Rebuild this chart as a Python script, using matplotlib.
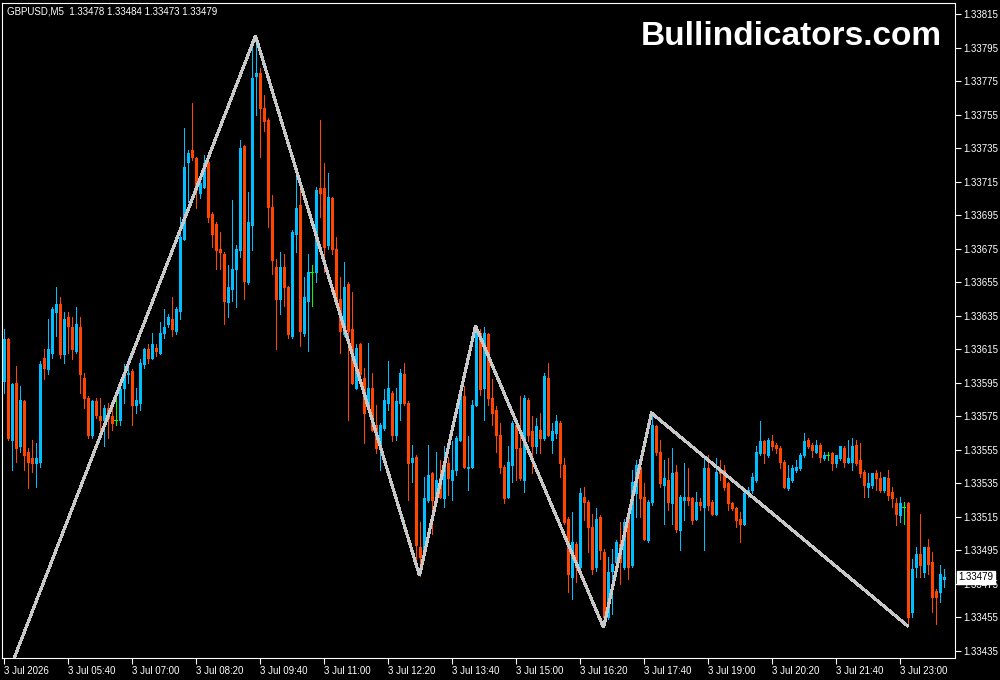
import matplotlib
matplotlib.use("Agg")
import matplotlib.pyplot as plt
from matplotlib.transforms import blended_transform_factory

# ---------------- data (GBPUSD, M5, 3 Jul 04:20 .. 23:55) ----------------
header = "GBPUSD,M5  1.33478 1.33484 1.33473 1.33479"
watermark = "Bullindicators.com"

opens = [
    1.33596, 1.33621, 1.33561, 1.33595, 1.33557, 1.33584, 1.33554, 1.33550, 1.33547, 1.33548,
    1.33610, 1.33603, 1.33613, 1.33637, 1.33642, 1.33612, 1.33634, 1.33628, 1.33614, 1.33628,
    1.33598, 1.33586, 1.33564, 1.33584, 1.33575, 1.33573, 1.33580, 1.33575, 1.33573, 1.33573,
    1.33592, 1.33600, 1.33602, 1.33582, 1.33583, 1.33606, 1.33615, 1.33610, 1.33616, 1.33613,
    1.33625, 1.33630, 1.33633, 1.33626, 1.33638, 1.33681, 1.33727, 1.33734, 1.33729, 1.33708,
    1.33712, 1.33727, 1.33696, 1.33690, 1.33675, 1.33672, 1.33643, 1.33651, 1.33663, 1.33674,
    1.33736, 1.33655, 1.33689, 1.33778, 1.33780, 1.33759, 1.33752, 1.33700, 1.33664, 1.33645,
    1.33664, 1.33652, 1.33623, 1.33684, 1.33701, 1.33625, 1.33644, 1.33661, 1.33661, 1.33711,
    1.33711, 1.33677, 1.33705, 1.33675, 1.33645, 1.33624, 1.33654, 1.33627, 1.33592, 1.33618,
    1.33598, 1.33581, 1.33592, 1.33570, 1.33556, 1.33568, 1.33583, 1.33589, 1.33564, 1.33583,
    1.33600, 1.33583, 1.33548, 1.33551, 1.33497, 1.33493, 1.33525, 1.33541, 1.33527, 1.33538,
    1.33526, 1.33547, 1.33537, 1.33543, 1.33561, 1.33587, 1.33544, 1.33545, 1.33582, 1.33625,
    1.33592, 1.33624, 1.33586, 1.33579, 1.33564, 1.33545, 1.33527, 1.33546, 1.33570, 1.33556,
    1.33537, 1.33585, 1.33566, 1.33557, 1.33567, 1.33562, 1.33598, 1.33561, 1.33565, 1.33571,
    1.33546, 1.33514, 1.33479, 1.33499, 1.33485, 1.33527, 1.33524, 1.33509, 1.33485, 1.33515,
    1.33494, 1.33455, 1.33483, 1.33488, 1.33499, 1.33485, 1.33515, 1.33486, 1.33529, 1.33545,
    1.33527, 1.33501, 1.33524, 1.33569, 1.33554, 1.33534, 1.33537, 1.33523, 1.33542, 1.33507,
    1.33525, 1.33527, 1.33526, 1.33514, 1.33524, 1.33521, 1.33544, 1.33524, 1.33517, 1.33543,
    1.33543, 1.33535, 1.33523, 1.33520, 1.33514, 1.33511, 1.33529, 1.33531, 1.33537, 1.33553,
    1.33560, 1.33552, 1.33560, 1.33558, 1.33556, 1.33548, 1.33532, 1.33537, 1.33543, 1.33544,
    1.33552, 1.33561, 1.33558, 1.33554, 1.33558, 1.33550, 1.33552, 1.33553, 1.33547, 1.33550,
    1.33556, 1.33548, 1.33548, 1.33558, 1.33549, 1.33542, 1.33533, 1.33534, 1.33541, 1.33538,
    1.33531, 1.33538, 1.33530, 1.33523, 1.33516, 1.33521, 1.33523, 1.33458, 1.33485, 1.33493,
    1.33482, 1.33497, 1.33488, 1.33471, 1.33470, 1.33478,
]
highs = [
    1.33627, 1.33622, 1.33595, 1.33605, 1.33593, 1.33585, 1.33556, 1.33561, 1.33559, 1.33608,
    1.33615, 1.33633, 1.33640, 1.33652, 1.33646, 1.33637, 1.33637, 1.33634, 1.33640, 1.33634,
    1.33601, 1.33587, 1.33585, 1.33586, 1.33586, 1.33582, 1.33583, 1.33585, 1.33589, 1.33594,
    1.33606, 1.33610, 1.33603, 1.33592, 1.33609, 1.33616, 1.33618, 1.33625, 1.33618, 1.33631,
    1.33639, 1.33636, 1.33646, 1.33640, 1.33694, 1.33747, 1.33734, 1.33762, 1.33730, 1.33717,
    1.33731, 1.33730, 1.33697, 1.33691, 1.33685, 1.33673, 1.33665, 1.33704, 1.33677, 1.33740,
    1.33737, 1.33709, 1.33798, 1.33802, 1.33783, 1.33767, 1.33753, 1.33707, 1.33669, 1.33673,
    1.33672, 1.33653, 1.33686, 1.33722, 1.33710, 1.33658, 1.33672, 1.33665, 1.33712, 1.33752,
    1.33726, 1.33720, 1.33706, 1.33682, 1.33658, 1.33667, 1.33655, 1.33649, 1.33618, 1.33619,
    1.33604, 1.33619, 1.33601, 1.33582, 1.33571, 1.33591, 1.33608, 1.33590, 1.33592, 1.33603,
    1.33607, 1.33584, 1.33558, 1.33552, 1.33512, 1.33539, 1.33558, 1.33542, 1.33554, 1.33549,
    1.33557, 1.33551, 1.33560, 1.33563, 1.33590, 1.33593, 1.33563, 1.33585, 1.33629, 1.33627,
    1.33628, 1.33625, 1.33597, 1.33581, 1.33571, 1.33546, 1.33557, 1.33572, 1.33573, 1.33587,
    1.33588, 1.33586, 1.33575, 1.33574, 1.33577, 1.33601, 1.33607, 1.33571, 1.33576, 1.33572,
    1.33550, 1.33515, 1.33518, 1.33500, 1.33532, 1.33533, 1.33525, 1.33517, 1.33520, 1.33516,
    1.33496, 1.33491, 1.33496, 1.33501, 1.33512, 1.33514, 1.33517, 1.33543, 1.33549, 1.33548,
    1.33535, 1.33525, 1.33577, 1.33570, 1.33561, 1.33549, 1.33550, 1.33556, 1.33546, 1.33528,
    1.33547, 1.33544, 1.33527, 1.33530, 1.33526, 1.33551, 1.33552, 1.33525, 1.33550, 1.33549,
    1.33546, 1.33536, 1.33524, 1.33521, 1.33518, 1.33530, 1.33533, 1.33541, 1.33557, 1.33572,
    1.33561, 1.33562, 1.33564, 1.33559, 1.33557, 1.33549, 1.33546, 1.33546, 1.33549, 1.33553,
    1.33565, 1.33562, 1.33559, 1.33561, 1.33559, 1.33554, 1.33554, 1.33554, 1.33552, 1.33557,
    1.33557, 1.33561, 1.33562, 1.33561, 1.33559, 1.33543, 1.33541, 1.33541, 1.33543, 1.33542,
    1.33539, 1.33543, 1.33533, 1.33526, 1.33527, 1.33524, 1.33524, 1.33490, 1.33497, 1.33517,
    1.33497, 1.33502, 1.33494, 1.33472, 1.33486, 1.33484,
]
lows = [
    1.33589, 1.33561, 1.33543, 1.33548, 1.33554, 1.33543, 1.33532, 1.33542, 1.33533, 1.33545,
    1.33597, 1.33600, 1.33610, 1.33623, 1.33610, 1.33607, 1.33613, 1.33609, 1.33613, 1.33589,
    1.33580, 1.33562, 1.33562, 1.33574, 1.33567, 1.33557, 1.33562, 1.33567, 1.33570, 1.33570,
    1.33583, 1.33595, 1.33570, 1.33577, 1.33579, 1.33604, 1.33607, 1.33609, 1.33611, 1.33612,
    1.33622, 1.33628, 1.33623, 1.33624, 1.33633, 1.33680, 1.33703, 1.33728, 1.33699, 1.33705,
    1.33711, 1.33691, 1.33676, 1.33663, 1.33663, 1.33630, 1.33634, 1.33644, 1.33640, 1.33670,
    1.33645, 1.33654, 1.33674, 1.33755, 1.33730, 1.33745, 1.33688, 1.33660, 1.33615, 1.33636,
    1.33641, 1.33622, 1.33622, 1.33673, 1.33617, 1.33623, 1.33614, 1.33641, 1.33655, 1.33694,
    1.33661, 1.33675, 1.33672, 1.33641, 1.33613, 1.33623, 1.33573, 1.33594, 1.33591, 1.33596,
    1.33559, 1.33580, 1.33566, 1.33553, 1.33543, 1.33567, 1.33579, 1.33560, 1.33561, 1.33573,
    1.33582, 1.33525, 1.33536, 1.33489, 1.33480, 1.33490, 1.33524, 1.33505, 1.33526, 1.33526,
    1.33521, 1.33528, 1.33525, 1.33540, 1.33560, 1.33544, 1.33531, 1.33544, 1.33581, 1.33588,
    1.33573, 1.33582, 1.33570, 1.33554, 1.33541, 1.33523, 1.33526, 1.33536, 1.33537, 1.33537,
    1.33530, 1.33560, 1.33541, 1.33553, 1.33553, 1.33561, 1.33563, 1.33553, 1.33562, 1.33539,
    1.33511, 1.33470, 1.33466, 1.33476, 1.33484, 1.33513, 1.33494, 1.33481, 1.33483, 1.33490,
    1.33449, 1.33454, 1.33457, 1.33487, 1.33475, 1.33484, 1.33478, 1.33485, 1.33515, 1.33515,
    1.33501, 1.33500, 1.33522, 1.33552, 1.33533, 1.33511, 1.33519, 1.33511, 1.33506, 1.33495,
    1.33513, 1.33522, 1.33511, 1.33513, 1.33519, 1.33495, 1.33519, 1.33516, 1.33516, 1.33537,
    1.33531, 1.33519, 1.33519, 1.33509, 1.33500, 1.33510, 1.33527, 1.33529, 1.33536, 1.33552,
    1.33547, 1.33551, 1.33555, 1.33553, 1.33544, 1.33532, 1.33531, 1.33536, 1.33542, 1.33543,
    1.33551, 1.33556, 1.33551, 1.33553, 1.33548, 1.33549, 1.33549, 1.33543, 1.33545, 1.33549,
    1.33545, 1.33547, 1.33543, 1.33546, 1.33539, 1.33527, 1.33527, 1.33532, 1.33531, 1.33530,
    1.33530, 1.33525, 1.33521, 1.33510, 1.33512, 1.33511, 1.33450, 1.33455, 1.33479, 1.33479,
    1.33479, 1.33481, 1.33458, 1.33451, 1.33464, 1.33473,
]
closes = [
    1.33621, 1.33562, 1.33594, 1.33556, 1.33585, 1.33552, 1.33548, 1.33547, 1.33550, 1.33606,
    1.33604, 1.33615, 1.33639, 1.33642, 1.33612, 1.33633, 1.33629, 1.33615, 1.33630, 1.33600,
    1.33586, 1.33564, 1.33584, 1.33576, 1.33573, 1.33580, 1.33574, 1.33571, 1.33573, 1.33591,
    1.33599, 1.33601, 1.33582, 1.33585, 1.33607, 1.33615, 1.33610, 1.33618, 1.33614, 1.33625,
    1.33628, 1.33634, 1.33627, 1.33639, 1.33682, 1.33724, 1.33732, 1.33730, 1.33710, 1.33714,
    1.33726, 1.33694, 1.33684, 1.33674, 1.33673, 1.33644, 1.33652, 1.33663, 1.33675, 1.33735,
    1.33656, 1.33691, 1.33777, 1.33780, 1.33759, 1.33751, 1.33700, 1.33668, 1.33645, 1.33664,
    1.33652, 1.33624, 1.33685, 1.33699, 1.33626, 1.33646, 1.33661, 1.33661, 1.33710, 1.33708,
    1.33676, 1.33706, 1.33675, 1.33644, 1.33626, 1.33652, 1.33626, 1.33595, 1.33616, 1.33600,
    1.33577, 1.33592, 1.33567, 1.33556, 1.33570, 1.33585, 1.33592, 1.33564, 1.33584, 1.33601,
    1.33583, 1.33547, 1.33550, 1.33498, 1.33491, 1.33526, 1.33540, 1.33525, 1.33537, 1.33527,
    1.33547, 1.33538, 1.33543, 1.33562, 1.33588, 1.33545, 1.33545, 1.33582, 1.33627, 1.33591,
    1.33625, 1.33586, 1.33577, 1.33564, 1.33545, 1.33526, 1.33548, 1.33571, 1.33556, 1.33538,
    1.33586, 1.33564, 1.33557, 1.33569, 1.33562, 1.33599, 1.33564, 1.33566, 1.33572, 1.33547,
    1.33512, 1.33481, 1.33500, 1.33485, 1.33529, 1.33524, 1.33509, 1.33484, 1.33514, 1.33495,
    1.33455, 1.33482, 1.33487, 1.33500, 1.33488, 1.33512, 1.33485, 1.33536, 1.33546, 1.33526,
    1.33502, 1.33524, 1.33570, 1.33554, 1.33535, 1.33538, 1.33524, 1.33541, 1.33508, 1.33527,
    1.33527, 1.33525, 1.33513, 1.33524, 1.33522, 1.33544, 1.33522, 1.33517, 1.33542, 1.33541,
    1.33533, 1.33523, 1.33520, 1.33513, 1.33511, 1.33529, 1.33531, 1.33539, 1.33554, 1.33560,
    1.33553, 1.33561, 1.33557, 1.33556, 1.33548, 1.33533, 1.33538, 1.33544, 1.33545, 1.33552,
    1.33560, 1.33557, 1.33555, 1.33558, 1.33551, 1.33552, 1.33552, 1.33547, 1.33552, 1.33557,
    1.33548, 1.33550, 1.33557, 1.33547, 1.33541, 1.33534, 1.33535, 1.33541, 1.33538, 1.33531,
    1.33539, 1.33528, 1.33526, 1.33517, 1.33523, 1.33521, 1.33455, 1.33484, 1.33493, 1.33486,
    1.33497, 1.33487, 1.33467, 1.33467, 1.33481, 1.33479,
]

# ZigZag vertices (bar index, price); first vertex lies before the visible window
zz_bars = [-2, 63, 104, 118, 150, 162, 226]
zz_prices = [1.33402, 1.33802, 1.33480, 1.33629, 1.33449, 1.33577, 1.33450]

# time axis labels (every 16 bars)
x_label_bars = [0, 16, 32, 48, 64, 80, 96, 112, 128, 144, 160, 176, 192, 208, 224]
x_labels = ["3 Jul 2026", "3 Jul 05:40", "3 Jul 07:00", "3 Jul 08:20", "3 Jul 09:40",
            "3 Jul 11:00", "3 Jul 12:20", "3 Jul 13:40", "3 Jul 15:00", "3 Jul 16:20",
            "3 Jul 17:40", "3 Jul 19:00", "3 Jul 20:20", "3 Jul 21:40", "3 Jul 23:00"]
y_ticks = [1.33815, 1.33795, 1.33775, 1.33755, 1.33735, 1.33715, 1.33695, 1.33675,
           1.33655, 1.33635, 1.33615, 1.33595, 1.33575, 1.33555, 1.33535, 1.33515,
           1.33495, 1.33475, 1.33455, 1.33435]

# ---------------- style ----------------
BULL = "#00BFFF"
BEAR = "#FF4500"
DOJI = "#00FF00"
ZZ = "#C8C8C8"
FONT = "Liberation Sans"
FS = 7.0

W, H = 1000, 680
fig = plt.figure(figsize=(W / 100, H / 100), dpi=100, facecolor="black")
L_px, R_px, T_px, B_px = 2, 955, 3, 658
ax = fig.add_axes([L_px / W, (H - B_px) / H, (R_px - L_px) / W, (B_px - T_px) / H])
ax.set_facecolor("black")

n = len(opens)
xs = list(range(n))
min_body = 0.7e-5          # about one pixel, so tiny bodies stay visible
px = 72.0 / 100            # one pixel in points
body_w = 0.8

for kind, col in (("bull", BULL), ("bear", BEAR), ("doji", DOJI)):
    sel = []
    for i in xs:
        o, c = opens[i], closes[i]
        k = "bull" if c > o else ("bear" if c < o else "doji")
        if k == kind:
            sel.append(i)
    if not sel:
        continue
    ax.vlines(sel, [lows[i] for i in sel], [highs[i] for i in sel],
              colors=col, linewidth=px, antialiased=False, zorder=2)
    if kind == "doji":
        ax.hlines([opens[i] for i in sel], [i - body_w / 2 for i in sel],
                  [i + body_w / 2 for i in sel], colors=col, linewidth=px,
                  antialiased=False, zorder=3)
    else:
        bottoms = [min(opens[i], closes[i]) for i in sel]
        tops = [max(max(opens[i], closes[i]), min(opens[i], closes[i]) + min_body)
                for i in sel]
        bodies = ax.vlines(sel, bottoms, tops, colors=col, linewidth=3 * px,
                           antialiased=False, zorder=3)
        bodies.set_capstyle("butt")

ax.plot(zz_bars, zz_prices, color=ZZ, linewidth=1.5, antialiased=False,
        solid_joinstyle="miter", zorder=4)

ax.set_xlim((L_px - 3.5) / 4, (R_px - 3.5) / 4)
ax.set_ylim(1.334308, 1.338216)

for s in ax.spines.values():
    s.set_color("white")
    s.set_linewidth(0.8)

ax.yaxis.tick_right()
ax.set_yticks(y_ticks)
ax.set_yticklabels([f"{v:.5f}" for v in y_ticks])
ax.set_xticks(x_label_bars)
ax.set_xticklabels(x_labels)
for lab in ax.get_xticklabels():
    lab.set_horizontalalignment("left")
ax.tick_params(axis="both", colors="white", direction="out", length=4, width=0.8,
               labelsize=FS, pad=2)
for lab in ax.get_xticklabels() + ax.get_yticklabels():
    lab.set_fontfamily(FONT)
    lab.set_color("white")

# current price tag
tr = blended_transform_factory(ax.transAxes, ax.transData)
ax.text(1.0035, closes[-1], f"{closes[-1]:.5f}", transform=tr, ha="left", va="center",
        fontsize=FS, family=FONT, color="black", zorder=10, clip_on=False,
        bbox=dict(boxstyle="square,pad=0.15", fc="white", ec="white"))

# header and watermark
fig.text(7 / W, 1 - 11 / H, header, ha="left", va="center", fontsize=FS,
         family=FONT, color="white")
fig.text(942 / W, 1 - 45 / H, watermark, ha="right", va="baseline", fontsize=24,
         family=FONT, fontweight="bold", color="white")

fig.savefig("out.png", dpi=100, facecolor="black")
